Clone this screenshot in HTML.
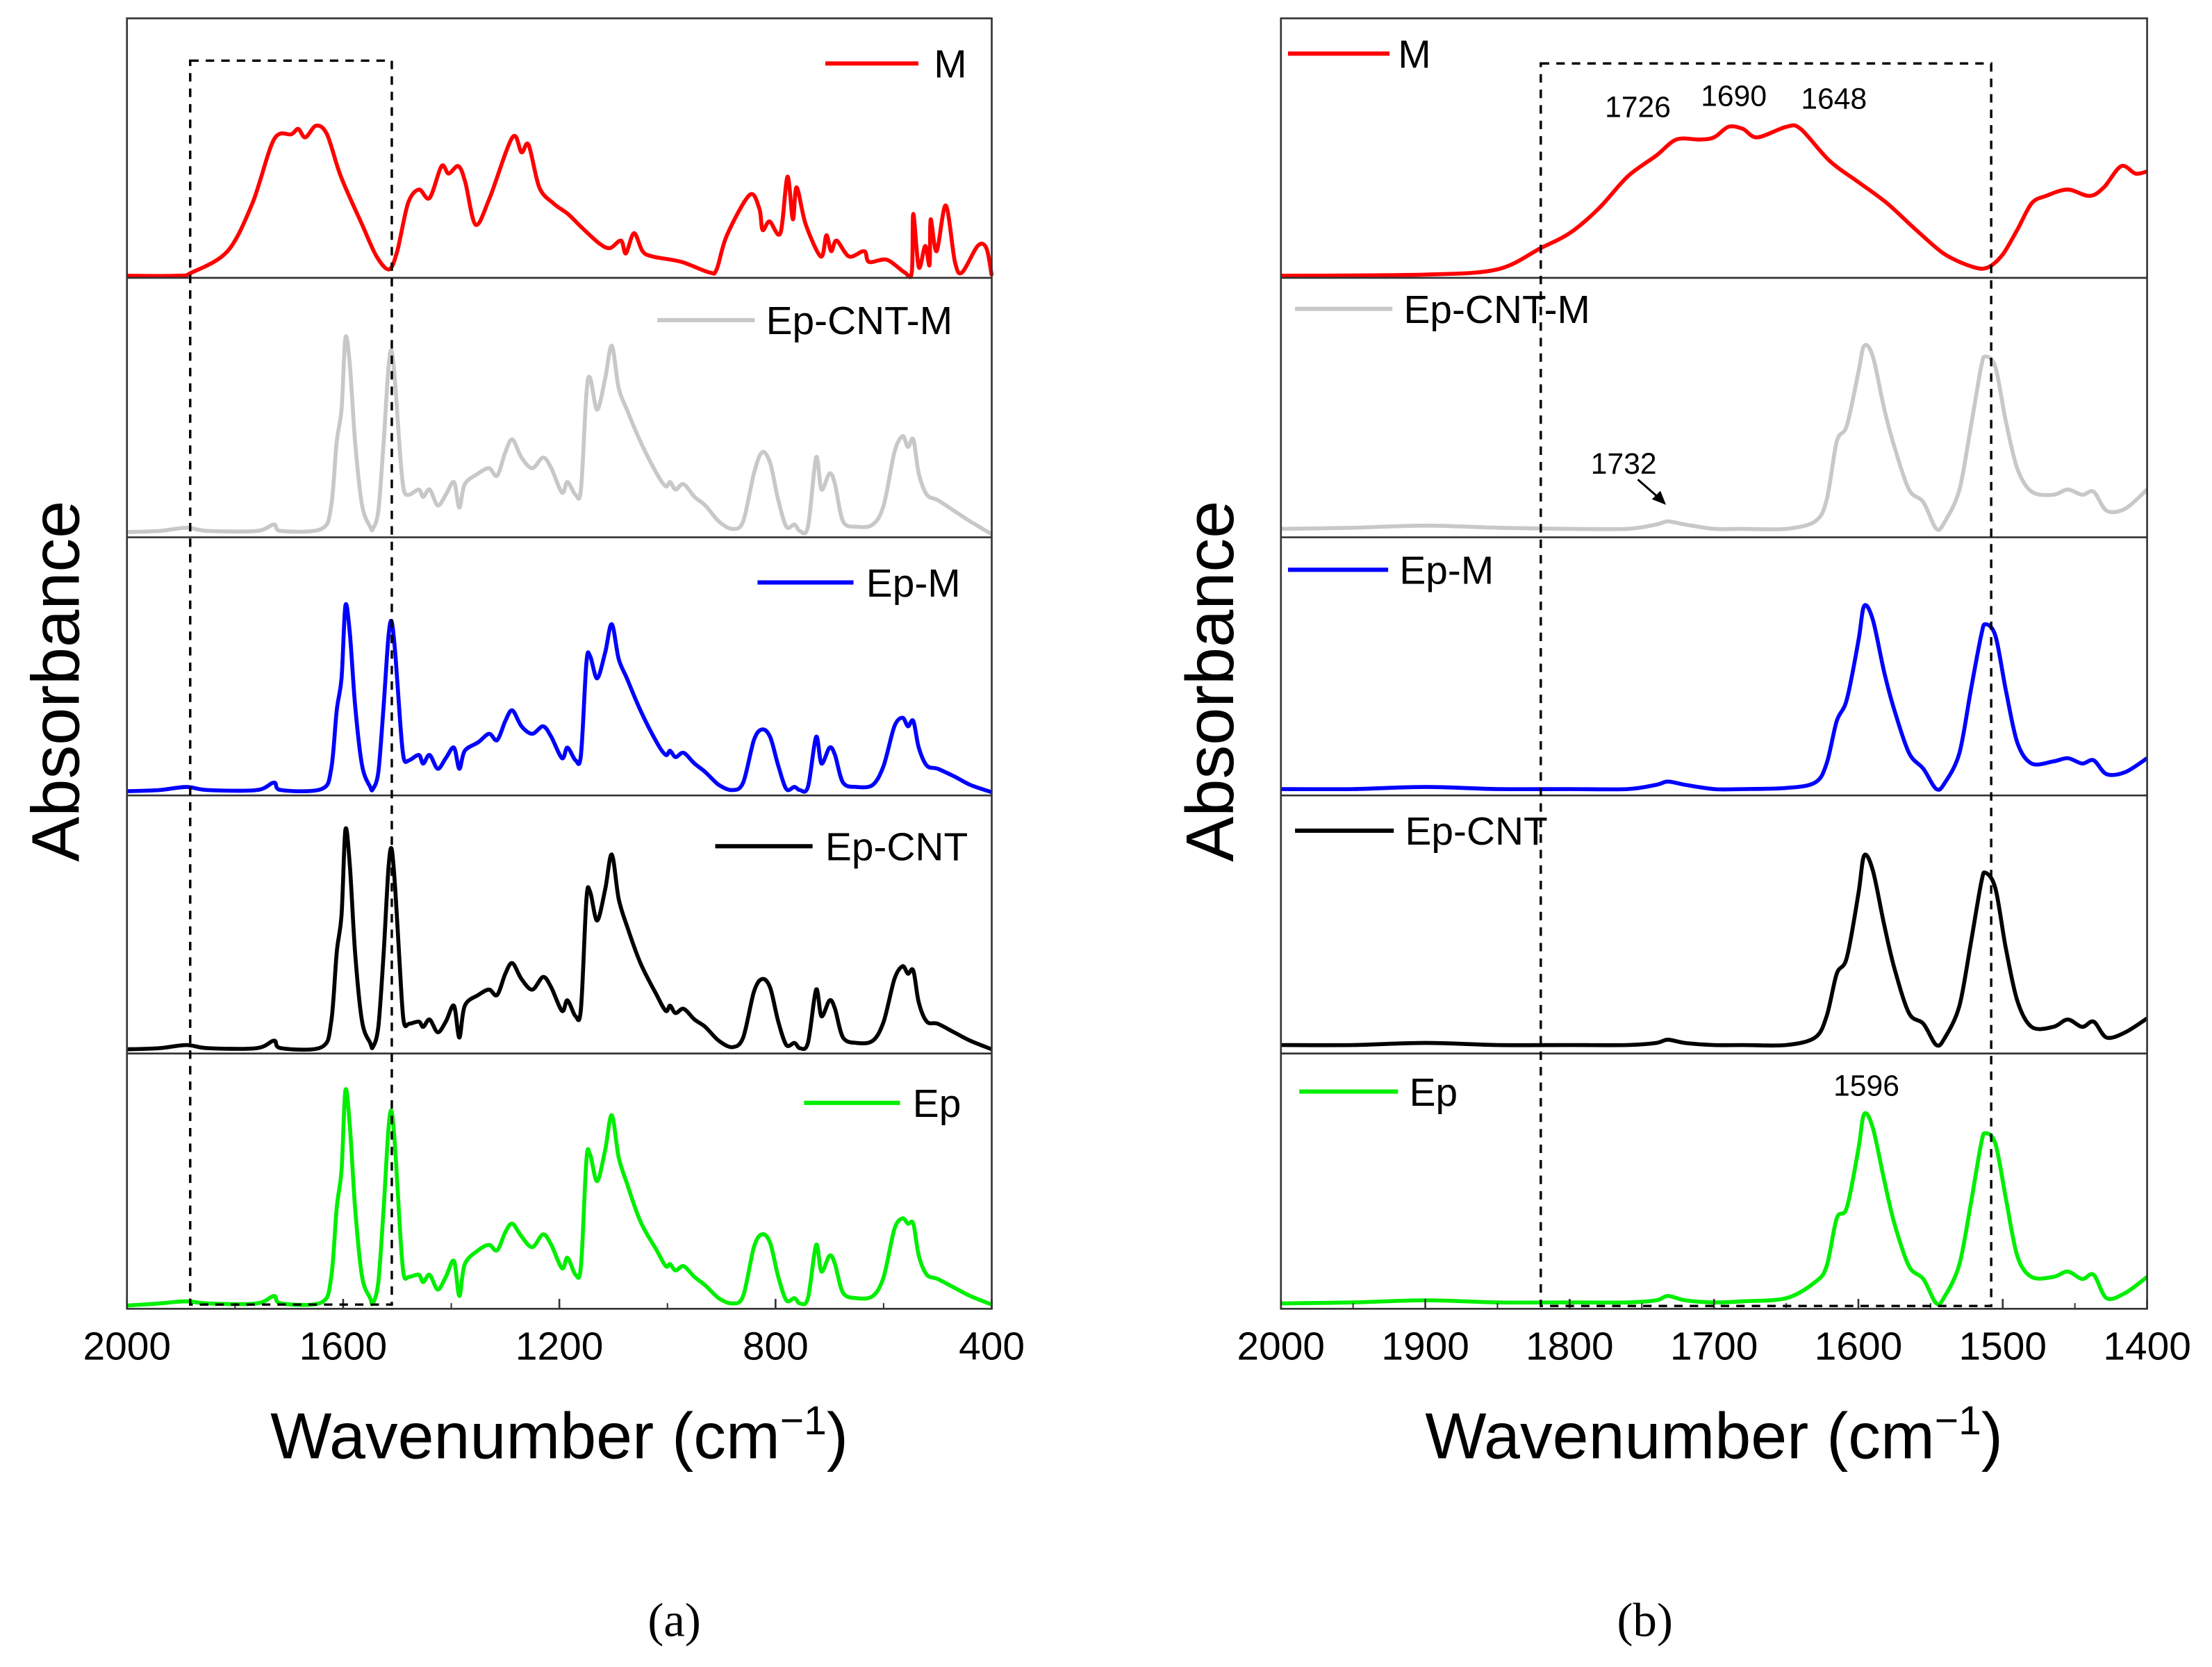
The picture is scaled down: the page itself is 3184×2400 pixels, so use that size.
<!DOCTYPE html>
<html><head><meta charset="utf-8">
<style>
html,body{margin:0;padding:0;background:#fff;}
svg{display:block;}
text{font-family:"Liberation Sans",sans-serif;}
</style></head>
<body>
<svg id="fig" width="3184" height="2400" viewBox="0 0 1568 1182" preserveAspectRatio="none" xmlns="http://www.w3.org/2000/svg">
<rect x="0" y="0" width="1568" height="1182" fill="#fff"/>
<g id="gA"></g>
<g id="gB"></g>
<text x="478" y="1160" font-size="34" text-anchor="middle" style="font-family:'Liberation Serif',serif">(a)</text>
<text x="1166" y="1160" font-size="34" text-anchor="middle" style="font-family:'Liberation Serif',serif">(b)</text>
</svg>
<script>
// ---- data ----
const seriesNames = ["M","Ep-CNT-M","Ep-M","Ep-CNT","Ep"];
const seriesColors = ["#ff0000","#c8c8c8","#0000ff","#000000","#00ee00"];
const ticksA = [2000,1600,1200,800,400];
const ticksB = [2000,1900,1800,1700,1600,1500,1400];
const wnM_A = [2000,1905,1880,1814,1768,1728,1696,1683,1670,1650,1630,1604,1565,1538,1515,1500,1480,1460,1440,1418,1405,1387,1374,1355,1329,1287,1270,1257,1237,1211,1184,1158,1125,1106,1086,1077,1062,1046,1027,974,922,909,890,848,830,824,811,791,778,768,761,744,716,706,697,687,664,636,627,594,561,548,545,535,523,515,513,502,485,468,455,426,410,400];
const valM_A = [2,2,5,25,70,130,135,140,132,143,135,95,50,20,8,25,70,83,75,105,98,105,90,50,75,132,118,125,85,70,60,47,32,28,35,23,42,25,20,15,5,8,40,78,65,45,53,42,95,55,85,50,20,40,25,35,20,25,15,17,5,5,60,10,30,12,55,25,68,15,5,30,28,2];
const wnA = [2000,1940,1890,1850,1760,1728,1715,1640,1622,1612,1603,1596,1588,1578,1565,1550,1545,1535,1525,1516,1510,1503,1495,1488,1478,1460,1452,1440,1425,1410,1395,1385,1375,1350,1330,1315,1300,1287,1270,1250,1230,1215,1195,1185,1170,1160,1150,1143,1130,1115,1103,1090,1075,1050,1020,1003,995,985,970,950,930,905,880,860,840,825,810,795,780,765,755,740,725,715,700,690,675,650,620,600,580,565,555,545,535,520,500,470,440,400];
const valEpCNTM_A = [5,6,9,6,6,12,6,8,30,90,120,187,165,90,30,10,8,25,90,160,175,140,80,45,40,45,38,45,30,40,52,28,50,60,65,58,80,92,75,65,75,65,42,52,40,45,135,150,120,150,180,140,120,90,60,48,52,45,50,38,30,15,8,15,60,80,70,35,10,12,6,10,75,45,60,50,15,10,12,30,80,95,85,92,60,40,35,25,15,3];
const valEpM_A = [4,5,8,5,5,12,5,6,25,80,110,178,155,85,28,8,6,22,85,150,163,130,72,35,33,38,30,38,25,35,45,25,42,50,58,52,70,80,65,58,65,55,35,45,33,38,125,131,110,135,161,128,110,80,50,38,42,36,40,30,22,10,5,12,52,62,55,28,6,8,5,8,55,30,45,38,12,8,10,28,65,73,65,70,45,28,25,18,10,3];
const valEpCNT_A = [4,5,8,5,5,12,5,6,30,95,130,210,180,95,30,10,6,25,95,175,192,150,80,30,28,30,25,32,20,30,45,15,45,55,60,55,75,85,70,60,72,62,40,50,35,42,145,152,125,155,187,145,120,85,55,40,45,38,42,32,25,12,6,15,58,70,62,30,8,10,5,10,60,35,50,42,15,10,12,30,70,82,75,78,48,30,28,20,12,4];
const valEp_A = [3,5,7,5,5,12,5,6,30,95,130,205,175,95,30,10,5,25,95,170,185,145,75,32,30,32,25,32,18,30,45,12,42,55,60,55,72,80,68,58,70,60,38,48,32,40,140,145,120,150,182,142,118,82,55,40,42,36,40,30,22,10,5,12,58,70,62,30,8,10,5,10,60,35,50,42,15,10,12,30,75,85,80,80,50,32,28,20,12,4];
const wnM_B = [2000,1900,1850,1820,1800,1780,1760,1740,1726,1710,1700,1690,1680,1670,1650,1640,1620,1600,1580,1560,1540,1520,1510,1500,1490,1480,1470,1455,1440,1430,1418,1408,1400];
const valM_B = [2,3,8,28,42,65,95,115,130,130,132,142,140,132,142,140,110,90,70,45,22,10,10,22,45,70,77,83,77,85,105,98,100];
const wnB = [2000,1950,1900,1850,1800,1760,1740,1732,1720,1700,1680,1650,1630,1622,1615,1608,1600,1596,1590,1582,1575,1565,1555,1546,1540,1530,1522,1515,1512,1505,1498,1490,1480,1465,1455,1445,1437,1428,1415,1400];
const valEpCNTM_B = [8,9,11,9,8,8,12,15,12,8,8,8,15,35,90,105,155,180,170,120,85,45,33,8,15,45,105,160,170,160,110,65,43,40,45,40,43,25,27,45];
const valEpM_B = [6,6,8,6,6,6,10,13,10,6,6,7,12,30,70,90,145,178,165,115,80,40,25,6,12,40,100,150,161,150,100,50,30,32,35,30,33,20,22,35];
const valEpCNT_B = [8,8,10,8,8,8,10,13,10,8,8,8,15,35,75,90,150,186,172,120,80,38,28,8,15,45,105,160,170,155,100,50,25,25,32,25,30,15,20,33];
const valEp_B = [5,6,8,6,6,6,8,12,8,6,7,10,25,40,85,95,150,183,170,120,80,40,28,5,12,42,100,155,165,155,105,50,30,30,35,28,32,10,15,30];

const NS = "http://www.w3.org/2000/svg";
function mk(tag, attrs, parent){const e=document.createElementNS(NS,tag);for(const k in attrs)e.setAttribute(k,attrs[k]);parent.appendChild(e);return e;}
const bottoms=[197,381,564,747,928], TOP=13, VS=0.7543;

function smoothPath(pts){
  let d="M"+pts[0][0].toFixed(1)+","+pts[0][1].toFixed(1);
  for(let i=0;i<pts.length-1;i++){
    const p0=pts[Math.max(0,i-1)],p1=pts[i],p2=pts[i+1],p3=pts[Math.min(pts.length-1,i+2)];
    const t=0.16;
    const c1=[p1[0]+(p2[0]-p0[0])*t,p1[1]+(p2[1]-p0[1])*t];
    const c2=[p2[0]-(p3[0]-p1[0])*t,p2[1]-(p3[1]-p1[1])*t];
    d+="C"+c1[0].toFixed(1)+","+c1[1].toFixed(1)+" "+c2[0].toFixed(1)+","+c2[1].toFixed(1)+" "+p2[0].toFixed(1)+","+p2[1].toFixed(1);
  }
  return d;
}

function buildPanel(g, x0, x1, wmax, wmin, ticks, minorStep, data, legends, box){
  const xs = w => x0 + (wmax - w)/(wmax - wmin)*(x1 - x0);
  const ys = (i,v) => bottoms[i] - v*VS;
  data.forEach((d,i)=>{
    const pts=d.wn.map((w,j)=>[xs(w),ys(i,d.v[j])]);
    const path=mk("path",{d:smoothPath(pts),fill:"none",stroke:seriesColors[i],"stroke-width":2.8,"stroke-linejoin":"round"},g);
    
    
  });
  const fr=mk("rect",{x:x0,y:TOP,width:x1-x0,height:928-TOP,fill:"none",stroke:"#333","stroke-width":1.3},g);
  
  
  for(let i=0;i<4;i++){
    const l=mk("line",{x1:x0,x2:x1,y1:bottoms[i],y2:bottoms[i],stroke:"#333","stroke-width":1.3},g);
    
    
  }
  ticks.forEach(t=>{
    const tk=mk("line",{x1:xs(t),x2:xs(t),y1:928,y2:921,stroke:"#333","stroke-width":1.3},g);
    
    
    const tx=mk("text",{x:xs(t),y:964,"font-size":28,"text-anchor":"middle",fill:"#000"},g);
    tx.textContent=t;
    
    
  });
  for(let w=wmax;w>=wmin;w-=minorStep){
    const m=mk("line",{x1:xs(w),x2:xs(w),y1:928,y2:924,stroke:"#333","stroke-width":1},g);
    
    
  }
  const bx=mk("path",{d:`M${xs(box[0])},${box[2]}L${xs(box[1])},${box[2]}L${xs(box[1])},${box[3]}L${xs(box[0])},${box[3]}Z`,fill:"none",stroke:"#000","stroke-width":1.7,"stroke-dasharray":"6,5"},g);
  
  
  legends.forEach((L,i)=>{
    const ln=mk("line",{x1:L[0],x2:L[1],y1:L[2],y2:L[2],stroke:seriesColors[i],"stroke-width":3},g);
    
    
    const t=mk("text",{x:L[3],y:L[2]+10,"font-size":28,fill:"#000"},g);
    t.textContent=seriesNames[i];
    
    
  });
  const xt=mk("text",{x:(x0+x1)/2,y:1034,"font-size":46,"text-anchor":"middle",fill:"#000"},g);
  xt.innerHTML='Wavenumber (cm<tspan dy="-17" font-size="29">\u22121</tspan><tspan dy="17">)</tspan>';
  
  
  const yt=mk("text",{x:0,y:0,"font-size":48,"text-anchor":"middle",fill:"#000",transform:`translate(${x0-34},483) rotate(-90)`},g);
  yt.textContent="Absorbance";
  
  
  return xs;
}

const gA=document.getElementById("gA"), gB=document.getElementById("gB");
buildPanel(gA,90,703,2000,400,ticksA,200,
  [{wn:wnM_A,v:valM_A},{wn:wnA,v:valEpCNTM_A},{wn:wnA,v:valEpM_A},{wn:wnA,v:valEpCNT_A},{wn:wnA,v:valEp_A}],
  [[585,651,45,662],[466,535,227,543],[537,605,413,614],[507,576,600,585],[570,638,782,647]],
  [1883,1510,43,925]);
buildPanel(gB,908,1522,2000,1400,ticksB,50,
  [{wn:wnM_B,v:valM_B},{wn:wnB,v:valEpCNTM_B},{wn:wnB,v:valEpM_B},{wn:wnB,v:valEpCNT_B},{wn:wnB,v:valEp_B}],
  [[913,985,38,991],[918,987,219,995],[913,984,404,992],[918,988,589,996],[921,991,774,999]],
  [1820,1508,45,926]);
const ann=[[1161,83,"1726"],[1229,75,"1690"],[1300,77,"1648"],[1151,336,"1732"],[1323,777,"1596"]];
ann.forEach(a=>{
  const t=mk("text",{x:a[0],y:a[1],"font-size":21,"text-anchor":"middle",fill:"#000"},gB);
  t.textContent=a[2];
  
  
});
const ar=mk("line",{x1:1161,y1:340,x2:1177,y2:354,stroke:"#000","stroke-width":1.5},gB);


const ah=mk("path",{d:"M1181,358L1171,354L1177,348Z",fill:"#000"},gB);


</script>
</body></html>
